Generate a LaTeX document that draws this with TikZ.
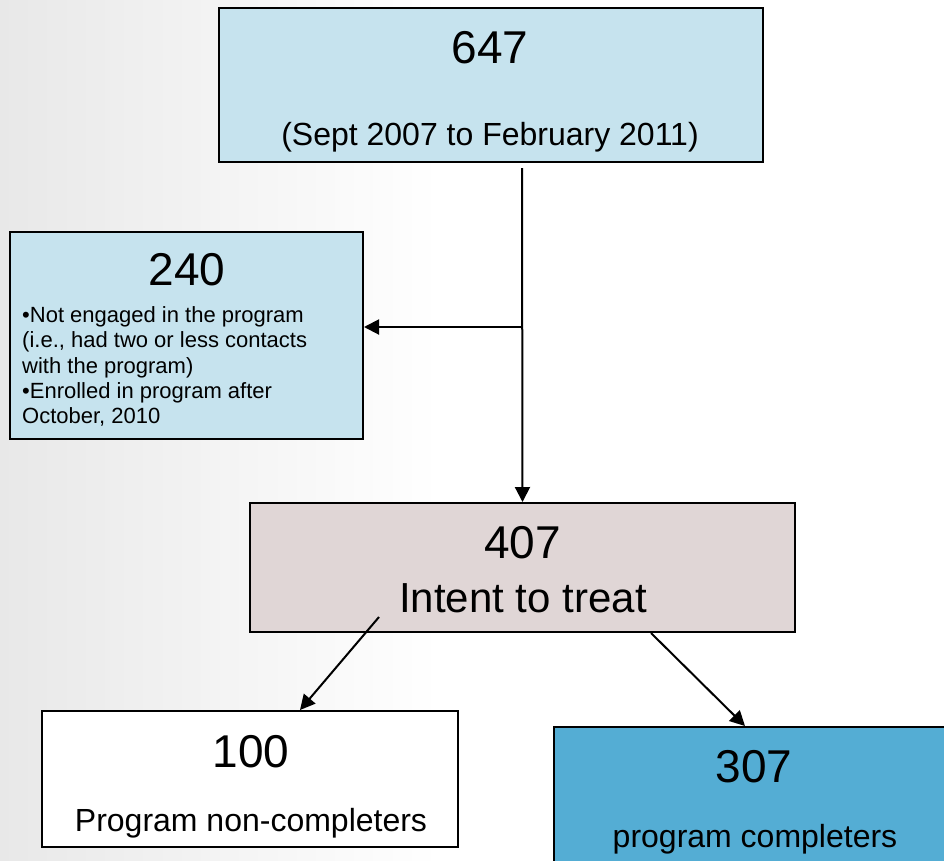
\documentclass[tikz,border=0pt]{standalone}
\usepackage{fontspec}
\setmainfont{Liberation Sans}
\usetikzlibrary{arrows.meta,positioning}
\definecolor{paleblue}{HTML}{C6E3EE}
\definecolor{palerose}{HTML}{E0D6D6}
\definecolor{midblue}{HTML}{54ADD4}

\begin{document}
\begin{tikzpicture}[x=1pt,y=-1pt]
\tikzstyle{every node}+=[inner sep=0pt]
\tikzstyle{box}=[draw=black,line width=2pt]
\tikzstyle{big}=[font=\fontsize{46}{55}\selectfont]
\tikzstyle{sub}=[font=\fontsize{32}{38}\selectfont]
\tikzstyle{note}=[font=\fontsize{22}{25.2}\selectfont,align=left]
\tikzstyle{arr}=[line width=2pt,-{Triangle[length=15pt,width=15pt]}]
\useasboundingbox (0,0) rectangle (944,860);
\shade[left color=black!9,right color=white] (0,0) rectangle (440,860);
% boxes
\node[box,fill=paleblue,minimum width=544pt,minimum height=154pt] (total) at (491,85) {};
\node[box,fill=paleblue,minimum width=353pt,minimum height=207pt] (excl) at (186.5,335.5) {};
\node[box,fill=palerose,minimum width=545pt,minimum height=129pt] (itt) at (522.5,567.5) {};
\node[box,fill=white,minimum width=416pt,minimum height=136pt] (noncomp) at (250,779) {};
\node[box,fill=midblue,minimum width=406pt,minimum height=153pt] (comp) at (757,803.5) {};
% texts
\node[big] (total-n) at (490,48) {647};
\node[sub] (total-t) at (490,137) {(Sept 2007 to February 2011)};
\node[big] (excl-n) at (187,270) {240};
\node[note,anchor=north west] (excl-t) at (22,306.5) {\textbullet Not engaged in the program\\(i.e., had two or less contacts\\with the program)\\\textbullet Enrolled in program after\\October, 2010};
\node[big] (itt-n) at (522.5,543) {407};
\node[font=\fontsize{42}{50}\selectfont] (itt-t) at (523,598) {Intent to treat};
\node[big] (noncomp-n) at (251,752) {100};
\node[sub] (noncomp-t) at (251,823) {Program non-completers};
\node[big] (comp-n) at (754,767) {307};
\node[sub] (comp-t) at (755,839) {program completers};
% connectors
\coordinate (drop) at (522,168);
\coordinate (fork) at (522,327);
\coordinate (leftfoot) at (379,617);
\draw[arr] (drop) -- (itt.north);
\draw[arr] (fork) -- (fork -| excl.east);
\draw[arr] (leftfoot) -- ([xshift=50pt]noncomp.north);
\draw[arr] ([xshift=128.5pt]itt.south) -- ([xshift=-12pt]comp.north);
\end{tikzpicture}
\end{document}
